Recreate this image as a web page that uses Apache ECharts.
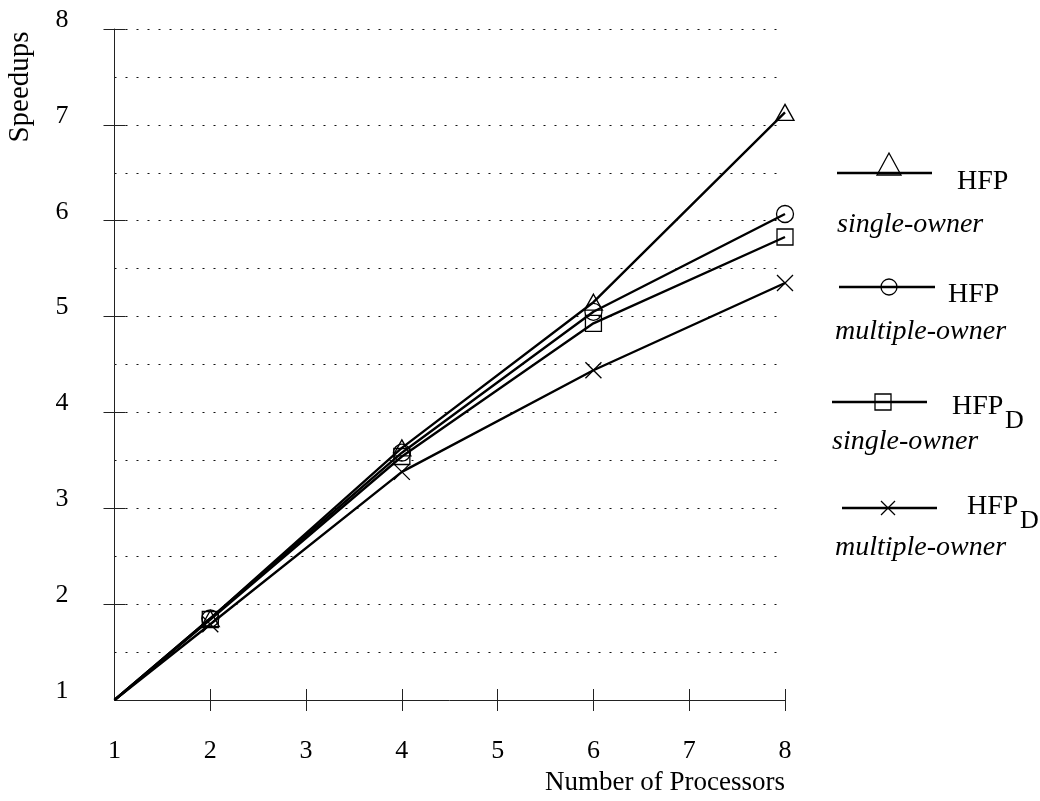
<!DOCTYPE html>
<html>
<head>
<meta charset="utf-8">
<script src="https://cdn.jsdelivr.net/npm/echarts@6/dist/echarts.min.js"></script>
<style>
    html, body { margin: 0; padding: 0; background: #fff; }
    #chart { width: 1040px; height: 801px; }
</style>
</head>
<body>
<div id="chart"></div>
<script>
var processors = [1, 2, 4, 6, 8];
var xTicks = [1, 2, 3, 4, 5, 6, 7, 8];
var yTicks = [1, 2, 3, 4, 5, 6, 7, 8];

var hfpSingle = [1, 1.85, 3.63, 5.15, 7.13];
var hfpMultiple = [1, 1.85, 3.58, 5.05, 6.07];
var hfpdSingle = [1, 1.84, 3.54, 4.93, 5.83];
var hfpdMultiple = [1, 1.79, 3.38, 4.44, 5.35];

(function () {
    var FONT = '"Liberation Serif", "DejaVu Serif", serif';
    var INK = '#000';
    var AXIS = '#222';
    var DOTS = '#111';
    var TICK = 11;
    var W = 1040, H = 801;
    var plot = { left: 114.5, right: 255, top: 29, bottom: 101 };
    var plotW = W - plot.left - plot.right;
    var plotH = H - plot.top - plot.bottom;

    function pairs(values) {
        return processors.map(function (p, i) {
            var item = { value: [p, values[i]] };
            // the common origin point carries no marker
            if (i === 0) {
                item.symbol = 'none';
            }
            return item;
        });
    }

    function lineSeries(name, values, symbol, size) {
        return {
            name: name,
            type: 'line',
            data: pairs(values),
            symbol: symbol,
            symbolSize: size,
            showAllSymbol: true,
            lineStyle: { color: INK, width: 2.4 },
            itemStyle: { color: 'rgba(0,0,0,0)', borderColor: INK, borderWidth: 1.3 },
            emphasis: { disabled: true },
            animation: false,
            z: 3
        };
    }

    // main axes carry the line, labels and outer ticks; the twin axes sit on
    // the opposite side, pulled back onto the main axis with a negative offset,
    // so their outward ticks give the inner half of each crossing tick
    function axisFor(type, main) {
        var ticks = type === 'x' ? xTicks : yTicks;
        var ax = {
            type: 'value',
            min: 1,
            max: 8,
            interval: 1,
            axisLine: { show: false, onZero: false },
            axisTick: {
                show: true,
                length: TICK,
                customValues: ticks.slice(1),
                lineStyle: { color: AXIS, width: 1 }
            },
            axisLabel: { show: false },
            splitLine: { show: false },
            z: main ? 2 : 4
        };
        if (type === 'x') {
            ax.position = main ? 'bottom' : 'top';
            ax.offset = main ? 0 : -plotH;
        } else {
            ax.position = main ? 'left' : 'right';
            ax.offset = main ? 0 : -plotW;
        }
        if (main) {
            ax.axisLine = { show: true, onZero: false, lineStyle: { color: AXIS, width: 1 } };
            ax.axisLabel = {
                show: true,
                customValues: ticks,
                fontFamily: FONT,
                fontSize: 26,
                color: INK,
                margin: type === 'x' ? 38 : 46
            };
            if (type === 'y') {
                ax.axisLabel.verticalAlign = 'bottom';
                ax.axisLabel.lineHeight = 18;
                ax.splitLine = { show: true, lineStyle: { color: DOTS, width: 1, type: [2, 9] } };
                ax.minorTick = { show: false, splitNumber: 2 };
                ax.minorSplitLine = { show: true, lineStyle: { color: DOTS, width: 1, type: [2, 9] } };
            }
        }
        return ax;
    }

    function legendItem(y, lineX0, lineX1, marker, label, sub, labelX, labelY, note, noteX, noteY) {
        var children = [
            {
                type: 'line',
                shape: { x1: lineX0, y1: y, x2: lineX1, y2: y },
                style: { stroke: INK, lineWidth: 2.4 }
            },
            marker,
            {
                type: 'text',
                x: labelX,
                y: labelY,
                style: {
                    text: label, font: '28px ' + FONT, fill: INK,
                    textAlign: 'left', textVerticalAlign: 'middle'
                }
            },
            {
                type: 'text',
                x: noteX,
                y: noteY,
                style: {
                    text: note, font: 'italic 28px ' + FONT, fill: INK,
                    textAlign: 'left', textVerticalAlign: 'middle'
                }
            }
        ];
        if (sub) {
            children.push({
                type: 'text',
                x: labelX + 53,
                y: labelY + 14,
                style: {
                    text: sub, font: '26px ' + FONT, fill: INK,
                    textAlign: 'left', textVerticalAlign: 'middle'
                }
            });
        }
        return { type: 'group', children: children };
    }

    var hollow = { fill: 'rgba(0,0,0,0)', stroke: INK, lineWidth: 1.3 };

    var legend = [
        legendItem(173, 837, 932,
            { type: 'polygon', shape: { points: [[889, 153], [877, 175], [901, 175]] }, style: hollow },
            'HFP', null, 957, 182, 'single-owner', 837, 225),
        legendItem(287, 839, 935,
            { type: 'circle', shape: { cx: 889, cy: 287, r: 8 }, style: hollow },
            'HFP', null, 948, 295, 'multiple-owner', 835, 332),
        legendItem(402, 832, 927,
            { type: 'rect', shape: { x: 875, y: 394, width: 16, height: 16 }, style: hollow },
            'HFP', 'D', 952, 407, 'single-owner', 832, 442),
        legendItem(508, 842, 937,
            {
                type: 'group',
                children: [
                    { type: 'line', shape: { x1: 881, y1: 501, x2: 895, y2: 515 }, style: { stroke: INK, lineWidth: 1.3 } },
                    { type: 'line', shape: { x1: 895, y1: 501, x2: 881, y2: 515 }, style: { stroke: INK, lineWidth: 1.3 } }
                ]
            },
            'HFP', 'D', 967, 507, 'multiple-owner', 835, 548)
    ];

    var option = {
        backgroundColor: '#fff',
        animation: false,
        grid: plot,
        xAxis: [axisFor('x', true), axisFor('x', false)],
        yAxis: [axisFor('y', true), axisFor('y', false)],
        series: [
            lineSeries('HFP single-owner', hfpSingle, 'triangle', [18, 16]),
            lineSeries('HFP multiple-owner', hfpMultiple, 'circle', 17),
            lineSeries('HFP_D single-owner', hfpdSingle, 'rect', 16),
            lineSeries('HFP_D multiple-owner', hfpdMultiple, 'path://M0,0L10,10M10,0L0,10', 16)
        ],
        graphic: legend.concat([
            {
                type: 'text',
                x: 20,
                y: 87,
                rotation: Math.PI / 2,
                style: {
                    text: 'Speedups', font: '29px ' + FONT, fill: INK,
                    textAlign: 'center', textVerticalAlign: 'middle'
                }
            },
            {
                type: 'text',
                right: 255,
                top: 769,
                style: {
                    text: 'Number of Processors', font: '27px ' + FONT, fill: INK
                }
            }
        ])
    };

    var myChart = echarts.init(document.getElementById('chart'));
    myChart.setOption(option);
})();
</script>
</body>
</html>
